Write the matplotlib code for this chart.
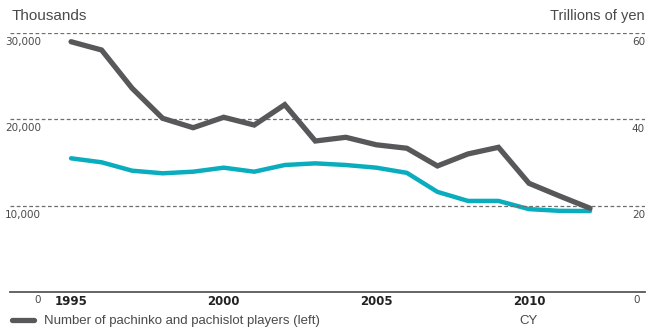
import matplotlib
matplotlib.use("Agg")
import matplotlib.pyplot as plt
from matplotlib.lines import Line2D

# Pachinko players (thousands, left) and market size (trillions of yen, right)
years = list(range(1995, 2013))
players = [28990, 28030, 23600, 20120, 19030, 20240, 19340, 21700, 17490, 17920,
           17050, 16650, 14600, 15990, 16760, 12590, 11120, 9700]
market = [30.97, 30.05, 28.1, 27.5, 27.87, 28.8, 27.87, 29.42, 29.8, 29.42,
          28.8, 27.6, 23.2, 21.1, 21.1, 19.2, 18.8, 18.76]

left_ticks = [10000, 20000, 30000]
left_labels = ["10,000", "20,000", "30,000"]
right_ticks = [20, 40, 60]
right_labels = ["20", "40", "60"]
year_ticks = [1995, 2000, 2005, 2010]

DARK = "#58585a"
CYAN = "#0aadbd"
GRID = "#6e6e6e"
TXT = "#4a4a4a"
NARROW = ["Liberation Sans Narrow", "DejaVu Sans"]
SANS = ["Liberation Sans", "DejaVu Sans"]

W, H = 655, 328
fig = plt.figure(figsize=(W / 100, H / 100), dpi=100)
ax = fig.add_axes([10 / W, 1 - 292 / H, 635 / W, (292 - 33) / H])
ax2 = ax.twinx()

ax.set_xlim(1993.0, 2013.8)
ax.set_ylim(0, 30000)
ax2.set_ylim(0, 60)

for a in (ax, ax2):
    for s in a.spines.values():
        s.set_visible(False)
    a.set_yticks([])
    a.patch.set_visible(False)
ax.spines["bottom"].set_visible(True)
ax.spines["bottom"].set_color(DARK)
ax.spines["bottom"].set_linewidth(1.3)

# dashed gridlines
for v in left_ticks:
    ax.axhline(v, color=GRID, lw=0.9, ls=(0, (3, 2)), zorder=1)

ax2.plot(years, market, color=CYAN, lw=3.2, solid_capstyle="round",
         solid_joinstyle="miter", zorder=3)
ax.plot(years, players, color=DARK, lw=3.8, solid_capstyle="round",
        solid_joinstyle="miter", zorder=4)
ax.set_zorder(ax2.get_zorder() + 1)

ax.set_xticks(year_ticks)
ax.set_xticklabels([str(y) for y in year_ticks], fontweight="bold",
                   family=NARROW, fontsize=8.5, color="#222222")
ax.tick_params(axis="x", length=0, pad=2)

# axis value labels sit just under each gridline
lx = 31 / 635
for v, lab in zip(left_ticks, left_labels):
    ax.annotate(lab, (lx, v), xycoords=("axes fraction", "data"),
                xytext=(0, -3), textcoords="offset points", ha="right", va="top",
                fontsize=7.5, family=NARROW, color=TXT)
for v, lab in zip(right_ticks, right_labels):
    ax2.annotate(lab, (1.0, v), xycoords=("axes fraction", "data"),
                 xytext=(0, -3), textcoords="offset points", ha="right", va="top",
                 fontsize=7.5, family=NARROW, color=TXT)
ax.annotate("0", (lx, 0), xycoords=("axes fraction", "data"), xytext=(0, -2.5),
            textcoords="offset points", ha="right", va="top",
            fontsize=7.5, family=NARROW, color=TXT)
ax2.annotate("0", (630 / 635, 0), xycoords=("axes fraction", "data"), xytext=(0, -2.5),
             textcoords="offset points", ha="right", va="top",
             fontsize=7.5, family=NARROW, color=TXT)

fig.text(12 / W, 1 - 16 / H, "Thousands", ha="left", va="center",
         fontsize=11, family=SANS, color=TXT)
fig.text(645 / W, 1 - 16 / H, "Trillions of yen", ha="right", va="center",
         fontsize=10.5, family=SANS, color=TXT)
fig.text(529 / W, 1 - 321 / H, "CY", ha="center", va="center",
         fontsize=9.5, family=SANS, color=TXT)

handle = Line2D([], [], color=DARK, lw=3.8, solid_capstyle="round")
fig.legend(handles=[handle], labels=["Number of pachinko and pachislot players (left)"],
           loc="center left", bbox_to_anchor=(12 / W, 1 - 321 / H), frameon=False,
           handlelength=1.7, handletextpad=0.7, borderpad=0, borderaxespad=0,
           prop={"family": SANS, "size": 9.5}, labelcolor=TXT)

fig.savefig("out.png", dpi=100)
